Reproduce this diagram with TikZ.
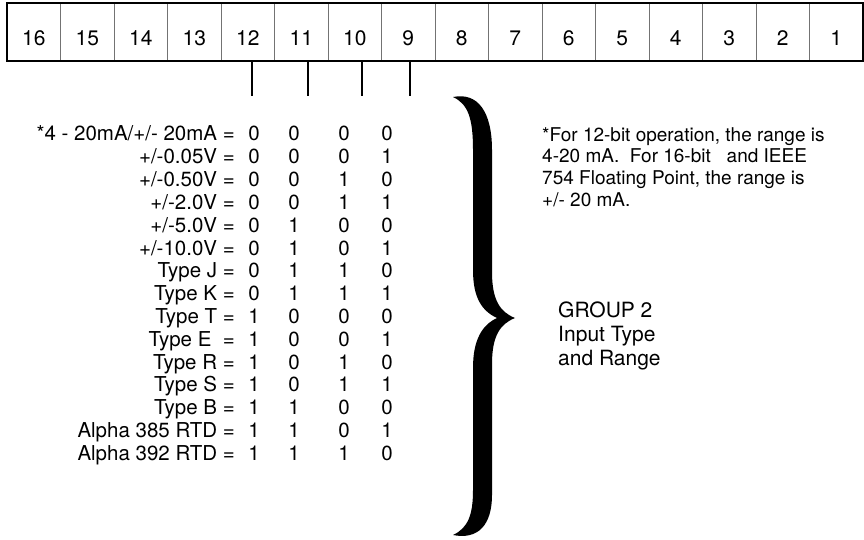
\documentclass[tikz,border=0pt]{standalone}
\usepackage{fontspec}
\setmainfont{TeX Gyre Heros}
\usetikzlibrary{positioning}
\tikzset{
  cell/.style={draw=black!55, line width=0.6pt, minimum width=53.5pt, minimum height=58.5pt,
               inner sep=0pt, outer sep=0pt, text height=27pt, text depth=0pt,
               font=\fontsize{21}{24}\selectfont},
  outline/.style={line width=2pt},
  lead/.style={line width=2pt},
  rowlab/.style={anchor=base east, inner sep=0pt, font=\fontsize{20.5}{24}\selectfont},
  bitval/.style={anchor=base, inner sep=0pt, font=\fontsize{20.5}{24}\selectfont},
  remark/.style={anchor=north west, align=left, inner sep=0pt, font=\fontsize{19}{21.7}\selectfont},
  grp/.style={anchor=north west, align=left, inner sep=0pt, font=\fontsize{21}{24}\selectfont},
}
\begin{document}
\begin{tikzpicture}[x=1pt, y=-1pt]
  \useasboundingbox (0,0) rectangle (864,540);
  % terminal strip
  \node[cell, anchor=north west] (p16) at (7,3) {16};
  \foreach \n [evaluate=\n as \m using int(\n+1)] in {15,...,1}
    \node[cell, right=0pt of p\m] (p\n) {\n};
  \draw[outline] (p16.north west) rectangle (p1.south east);
  % leads to switch bits
  \coordinate (t12) at (252,96);
  \coordinate (t11) at (308,96);
  \coordinate (t10) at (362,96);
  \coordinate (t9) at (410,96);
  \draw[lead] (t12 |- p12.south) -- (t12);
  \draw[lead] (t11 |- p11.south) -- (t11);
  \draw[lead] (t10 |- p10.south) -- (t10);
  \draw[lead] (t9 |- p9.south) -- (t9);
  % code table
  \foreach \lab/\ba/\bb/\bc/\bd [count=\r from 0] in {
      {*4 - 20mA/+/- 20mA =}/0/0/0/0, {+/-0.05V =}/0/0/0/1, {+/-0.50V =}/0/0/1/0,
      {+/-2.0V =}/0/0/1/1, {+/-5.0V =}/0/1/0/0, {+/-10.0V =}/0/1/0/1,
      {Type J =}/0/1/1/0, {Type K =}/0/1/1/1, {Type T =}/1/0/0/0,
      {Type E\ \ =}/1/0/0/1, {Type R =}/1/0/1/0, {Type S =}/1/0/1/1,
      {Type B =}/1/1/0/0, {Alpha 385 RTD =}/1/1/0/1, {Alpha 392 RTD =}/1/1/1/0} {
    \node[rowlab] (lab\r) at (235,{141+22.8*\r}) {\lab};
    \node[bitval] (a\r) at (254,{141+22.8*\r}) {\ba};
    \node[bitval] (b\r) at (294,{141+22.8*\r}) {\bb};
    \node[bitval] (c\r) at (344,{141+22.8*\r}) {\bc};
    \node[bitval] (d\r) at (387,{141+22.8*\r}) {\bd};
  }
  % brace
  \fill (453,97) .. controls (478,92) and (492,112) .. (492,150)
    -- (492,272) .. controls (492,300) and (500,312) .. (515,318)
    .. controls (500,324) and (492,336) .. (492,364)
    -- (492,495) .. controls (492,525) and (478,540) .. (453,535)
    .. controls (468,528) and (473,515) .. (473,490)
    -- (473,368) .. controls (473,340) and (482,325) .. (497,318)
    .. controls (482,311) and (473,298) .. (473,270)
    -- (473,150) .. controls (473,118) and (468,104) .. (453,97) -- cycle;
  \node[remark] (fn) at (542,127) {*For 12-bit operation, the range is\\
    4-20 mA.\ \ For 16-bit\ \ \ and IEEE\\754 Floating Point, the range is\\+/- 20 mA.};
  \node[grp] (g2) at (558,302) {GROUP 2\\Input Type\\and Range};
\end{tikzpicture}
\end{document}
